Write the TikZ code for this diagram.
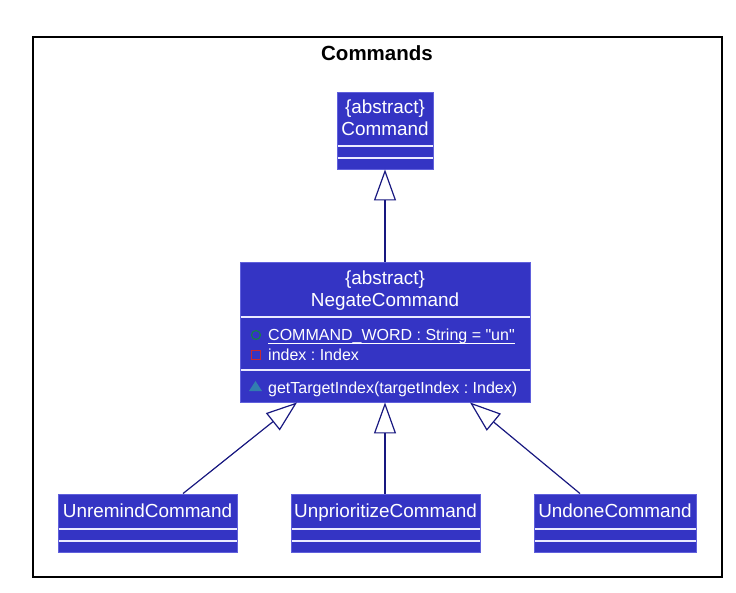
\documentclass[tikz,border=0pt]{standalone}
\usepackage{fontspec}
\setmainfont{Liberation Sans}[Ligatures=TeXOff]
\frenchspacing
\usetikzlibrary{arrows.meta,calc}
\definecolor{clsfill}{RGB}{52,52,196}
\definecolor{clsborder}{RGB}{96,96,220}
\definecolor{clsline}{RGB}{235,235,255}
\definecolor{arrowcol}{RGB}{24,24,128}
\definecolor{pubgreen}{RGB}{20,130,70}
\definecolor{privred}{RGB}{200,40,48}
\definecolor{pkgblue}{RGB}{50,125,175}
\tikzset{
  x=1pt, y=-1pt,
  classbox/.style={draw=clsborder, fill=clsfill, line width=0.9pt, inner sep=0pt, rectangle},
  sepline/.style={draw=clsline, line width=1.4pt},
  cname/.style={text=white, inner sep=0pt, anchor=base, font=\fontsize{18.9}{21}\selectfont},
  attr/.style={text=white, inner sep=0pt, anchor=base west, font=\fontsize{16}{18}\selectfont\frenchspacing},
  inherit/.style={draw=arrowcol, line width=1.2pt, -{Triangle[open, length=31pt, width=22pt, fill=white]}},
}
\begin{document}
\begin{tikzpicture}
\useasboundingbox (0,0) rectangle (736,592);
% package frame
\draw[line width=2pt, black] (33,36.5) rectangle (721.5,577);
\node[inner sep=0pt, anchor=base, font=\fontsize{20.5}{23}\selectfont\bfseries] (title) at (377,60) {Commands};

% Command
\node[classbox, minimum width=96pt, minimum height=77pt] (cmd) at (385,130.5) {};
\draw[sepline] (337.5,146) -- (432.5,146);
\draw[sepline] (337.5,158) -- (432.5,158);
\node[cname] (cmdA) at (385,113.3) {\{abstract\}};
\node[cname] (cmdN) at (385,135) {Command};

% NegateCommand
\node[classbox, minimum width=290pt, minimum height=140pt] (neg) at (385,332) {};
\draw[sepline] (240.5,317) -- (529.5,317);
\draw[sepline] (240.5,370) -- (529.5,370);
\node[cname] (negA) at (385,284.3) {\{abstract\}};
\node[cname] (negN) at (385,306) {NegateCommand};
\draw[pubgreen, line width=1.1pt] (256,335) circle (4.5);
\node[attr] (cw) at (268,340) {COMMAND\_WORD : String = "un"};
\draw[white, line width=0.9pt] ($(cw.base west)+(0,3)$) -- ($(cw.base east)+(0,3)$);
\draw[privred, line width=1.1pt] (251.5,350.5) rectangle (260.5,359.5);
\node[attr] (idx) at (268,360) {index : Index};
\fill[pkgblue] (249,391) -- (262,391) -- (255.5,381) -- cycle;
\node[attr] (gti) at (268,393.3) {getTargetIndex(targetIndex : Index)};

% UnremindCommand
\node[classbox, minimum width=179pt, minimum height=58pt] (unr) at (147.5,523) {};
\draw[sepline] (58.5,529) -- (236.5,529);
\draw[sepline] (58.5,541) -- (236.5,541);
\node[cname] (unrN) at (147.5,517.7) {UnremindCommand};

% UnprioritizeCommand
\node[classbox, minimum width=189pt, minimum height=58pt] (unp) at (385.5,523) {};
\draw[sepline] (291.5,529) -- (479.5,529);
\draw[sepline] (291.5,541) -- (479.5,541);
\node[cname] (unpN) at (385.5,517.7) {UnprioritizeCommand};

% UndoneCommand
\node[classbox, minimum width=162pt, minimum height=58pt] (und) at (615,523) {};
\draw[sepline] (534.5,529) -- (695.5,529);
\draw[sepline] (534.5,541) -- (695.5,541);
\node[cname] (undN) at (615,517.7) {UndoneCommand};

% inheritance connectors
\draw[inherit] (neg.north) -- (cmd.south);
\draw[inherit] ($(unr.north)+(35.5,0)$) -- ($(neg.south)+(-88,0)$);
\draw[inherit] (unp.north -| neg.south) -- (neg.south);
\draw[inherit] ($(und.north)+(-35,0)$) -- ($(neg.south)+(85,0)$);
\end{tikzpicture}
\end{document}
